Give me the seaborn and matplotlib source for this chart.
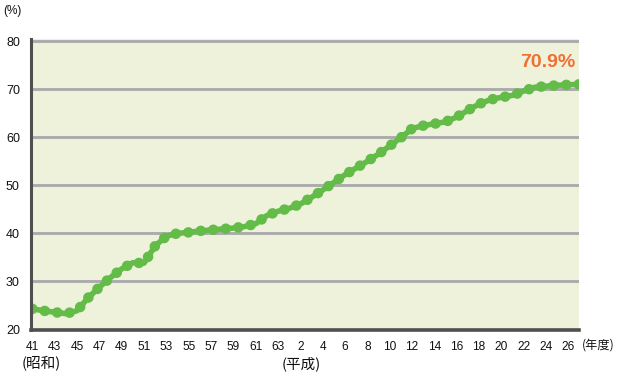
import numpy as np
import pandas as pd
import matplotlib
matplotlib.use("Agg")
import matplotlib.pyplot as plt
from matplotlib.ticker import FixedLocator
import seaborn as sns

# ---- data ----
years = list(range(1966, 2016))
rate = [24.3, 23.9, 23.6, 23.3, 23.9, 26.6, 28.8, 30.8, 32.6, 33.9,
        33.8, 37.4, 39.4, 40.0, 40.2, 40.5, 40.7, 40.9, 41.1, 41.4,
        42.0, 43.7, 44.6, 45.2, 46.1, 47.5, 49.0, 50.6, 52.2, 53.6,
        55.0, 56.5, 58.2, 59.9, 61.8, 62.4, 62.8, 63.2, 64.2, 65.6,
        66.9, 67.8, 68.3, 68.7, 69.6, 70.4, 70.6, 70.8, 70.9, 71.0]
tick_years = list(range(1966, 2015, 2))
tick_labels = ["41", "43", "45", "47", "49", "51", "53", "55", "57", "59", "61", "63",
               "2", "4", "6", "8", "10", "12", "14", "16", "18", "20", "22", "24", "26"]
y_ticks = [20, 30, 40, 50, 60, 70, 80]
highlight_year = 2014
highlight_label = "70.9%"

df = pd.DataFrame({"year": years, "rate": rate})

# ---- style ----
sns.set_style("white")
plt.rcParams["font.family"] = ["Liberation Sans", "Noto Sans CJK JP", "DejaVu Sans"]

GREEN = "#63BB48"
BG = "#EEF2DA"
GRID = "#ABABAB"
AXIS = "#4F4F4F"
ORANGE = "#F07034"
TXT = "#111111"

fig = plt.figure(figsize=(6.2, 3.83), dpi=100)
L, R, T, B = 31, 579, 39, 329.5
ax = fig.add_axes([L / 620, (383 - B) / 383, (R - L) / 620, (B - T) / 383])
ax.set_facecolor(BG)

px_per_year = 11.17
x_left = 1966 + (L - 32.3) / px_per_year
x_right = 1966 + (R - 32.3) / px_per_year
ax.set_xlim(x_left, x_right)
ax.set_ylim(20, 80.42)

# grid lines
for v in y_ticks[1:]:
    ax.axhline(v, color=GRID, lw=2.1, zorder=1)

# line + dotted beads
sns.lineplot(data=df, x="year", y="rate", ax=ax, color=GREEN, lw=4.0,
             zorder=3, solid_capstyle="round")
sns.lineplot(data=df, x="year", y="rate", ax=ax, color=GREEN, lw=7.6,
             linestyle=(0, (0.01, 1.18)), dash_capstyle="round", zorder=4)

# spines
for s in ["top", "right"]:
    ax.spines[s].set_visible(False)
ax.spines["left"].set_color(AXIS)
ax.spines["left"].set_linewidth(2.2)
ax.spines["bottom"].set_color(AXIS)
ax.spines["bottom"].set_linewidth(2.6)
ax.spines["left"].set_zorder(5)
ax.spines["bottom"].set_zorder(5)

# y axis
ax.set_yticks(y_ticks)
ax.set_yticklabels([str(v) for v in y_ticks])
ax.tick_params(axis="y", length=0, pad=8, labelsize=9, labelcolor=TXT)

# x axis: labels on major ticks, tick marks as minor ticks
ax.set_xticks(tick_years)
ax.set_xticklabels(tick_labels, family=["Liberation Sans Narrow", "Liberation Sans"])
ax.tick_params(axis="x", which="major", length=0, pad=8, labelsize=8.6,
               labelcolor=TXT)
minor = x_left + np.arange(40) * (14 / px_per_year)
ax.xaxis.set_minor_locator(FixedLocator(minor))
ax.tick_params(axis="x", which="minor", direction="inout", length=6.5,
               width=1.3, color=AXIS)
ax.set_xlabel("")
ax.set_ylabel("")

# highlight label
hv = df.loc[df["year"] == highlight_year, "rate"].iloc[0]
ax.annotate(highlight_label, xy=(highlight_year, hv), xytext=(4.7, 16),
            textcoords="offset points", ha="right", va="center",
            fontsize=14, fontweight="bold", color=ORANGE, zorder=6)

# extra labels
fig.text(3 / 620, 1 - 11 / 383, "(%)", fontsize=8.5, va="center", ha="left",
         color=TXT)
fig.text(22 / 620, 1 - 364 / 383, "(昭和)", fontsize=10.5, va="center", ha="left",
         family=["Noto Sans CJK JP"], color=TXT)
fig.text(301 / 620, 1 - 364 / 383, "(平成)", fontsize=10.5, va="center", ha="center",
         family=["Noto Sans CJK JP"], color=TXT)
fig.text(582 / 620, 1 - 345 / 383, "(年度)", fontsize=8.8, va="center", ha="left",
         family=["Noto Sans CJK JP"], color=TXT)

fig.savefig("out.png", dpi=100)
